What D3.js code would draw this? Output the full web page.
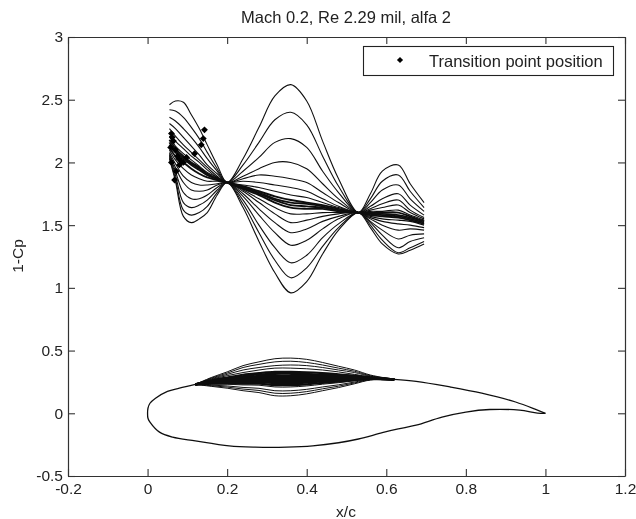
<!DOCTYPE html>
<html>
<head>
<meta charset="utf-8">
<script src="https://cdn.jsdelivr.net/npm/d3@7"></script>
<style>
  html, body { margin: 0; padding: 0; background: #fff; }
  svg { display: block; }
  text { font-family: "Liberation Sans", Arial, sans-serif; fill: #222; }
</style>
</head>
<body>
<svg id="chart" width="636" height="519"></svg>
<script>
const titleText = 'Mach 0.2, Re 2.29 mil, alfa 2';
const legendText = 'Transition point position';
const xTicks = [-0.2, 0, 0.2, 0.4, 0.6, 0.8, 1, 1.2];
const yTicks = [-0.5, 0, 0.5, 1, 1.5, 2, 2.5, 3];

// 1-Cp curves, all read at the same x/c stations
const cpX = [.055,.07,.09,.11,.13,.15,.175,.20,.24,.28,.32,.36,.40,.44,.48,.53,.56,.59,.63,.66,.695];
const cpCurves = [
  [2.46,2.49,2.48,2.38,2.27,2.14,1.98,1.84,2.03,2.28,2.53,2.62,2.49,2.17,1.87,1.60,1.75,1.93,1.98,1.83,1.68],
  [2.42,2.41,2.36,2.28,2.19,2.08,1.95,1.84,1.98,2.16,2.34,2.40,2.30,2.05,1.81,1.60,1.71,1.85,1.90,1.77,1.64],
  [2.36,2.33,2.27,2.20,2.12,2.03,1.93,1.84,1.93,2.04,2.16,2.19,2.12,1.93,1.76,1.60,1.68,1.78,1.82,1.71,1.61],
  [2.31,2.27,2.20,2.13,2.06,1.98,1.91,1.84,1.89,1.95,2.00,2.00,1.95,1.83,1.71,1.60,1.65,1.71,1.75,1.66,1.58],
  [2.27,2.21,2.14,2.08,2.02,1.96,1.89,1.84,1.87,1.90,1.89,1.87,1.84,1.76,1.68,1.60,1.63,1.67,1.70,1.62,1.56],
  [2.24,2.17,2.11,2.05,2.00,1.94,1.88,1.84,1.85,1.84,1.82,1.80,1.77,1.71,1.65,1.60,1.62,1.64,1.66,1.60,1.55],
  [2.21,2.13,2.07,2.02,1.97,1.92,1.88,1.84,1.82,1.80,1.77,1.74,1.72,1.68,1.64,1.60,1.61,1.61,1.62,1.58,1.54],
  [2.18,2.11,2.05,2.00,1.96,1.91,1.87,1.84,1.81,1.77,1.73,1.70,1.68,1.66,1.63,1.60,1.60,1.60,1.60,1.57,1.53],
  [2.16,2.09,2.04,1.99,1.95,1.90,1.87,1.84,1.80,1.76,1.71,1.68,1.67,1.65,1.62,1.60,1.59,1.59,1.58,1.56,1.53],
  [2.14,2.08,2.03,1.98,1.94,1.90,1.87,1.84,1.80,1.75,1.70,1.66,1.65,1.64,1.62,1.60,1.59,1.58,1.57,1.55,1.52],
  [2.12,2.05,2.00,1.95,1.91,1.88,1.86,1.84,1.79,1.74,1.68,1.64,1.63,1.63,1.61,1.60,1.58,1.57,1.56,1.54,1.51],
  [2.10,2.02,1.95,1.90,1.87,1.85,1.85,1.84,1.78,1.71,1.64,1.59,1.59,1.60,1.60,1.60,1.57,1.55,1.54,1.53,1.50],
  [2.08,1.99,1.89,1.84,1.82,1.82,1.83,1.84,1.77,1.68,1.59,1.52,1.54,1.57,1.59,1.60,1.56,1.53,1.51,1.50,1.48],
  [2.07,1.96,1.84,1.78,1.77,1.78,1.82,1.84,1.75,1.63,1.52,1.44,1.47,1.53,1.57,1.60,1.55,1.50,1.46,1.47,1.46],
  [2.06,1.93,1.76,1.71,1.71,1.74,1.80,1.84,1.73,1.58,1.44,1.34,1.38,1.47,1.55,1.60,1.53,1.46,1.39,1.42,1.43],
  [2.05,1.90,1.68,1.64,1.66,1.70,1.78,1.84,1.70,1.50,1.32,1.20,1.26,1.40,1.51,1.60,1.52,1.42,1.32,1.37,1.40],
  [2.04,1.87,1.62,1.58,1.60,1.65,1.76,1.84,1.67,1.44,1.22,1.08,1.16,1.33,1.48,1.60,1.50,1.38,1.28,1.32,1.37],
  [2.03,1.85,1.57,1.52,1.55,1.60,1.74,1.84,1.64,1.37,1.12,0.96,1.05,1.27,1.46,1.60,1.48,1.35,1.27,1.30,1.35]
];

// transition points
const transX = [.143,.14,.135,.118,.098,.085,.06,.062,.065,.07,.075,.08,.068,.06,.058,.072,.09,.078];
const transY = [2.26,2.19,2.14,2.07,2.04,2.01,2.23,2.2,2.17,2.1,2.05,1.98,1.86,2.0,2.12,1.93,2.0,2.03];

// airfoil skin, upper side, one curve per step
const skinX = [.12,.16,.20,.24,.28,.32,.36,.40,.44,.48,.52,.56,.62];
const skinCurves = [
  [.23,.285,.33,.38,.41,.435,.44,.43,.405,.375,.345,.305,.27],
  [.23,.28,.32,.365,.39,.41,.415,.405,.385,.36,.335,.30,.27],
  [.23,.275,.31,.345,.365,.38,.385,.38,.365,.345,.325,.295,.27],
  [.23,.27,.30,.325,.345,.36,.36,.355,.345,.33,.31,.29,.27],
  [.23,.263,.285,.307,.32,.33,.33,.327,.32,.31,.30,.287,.27],
  [.23,.26,.28,.297,.31,.315,.315,.313,.31,.304,.295,.284,.27],
  [.23,.257,.274,.287,.298,.30,.30,.30,.298,.296,.289,.282,.27],
  [.23,.255,.27,.28,.29,.29,.29,.29,.29,.29,.285,.28,.27],
  [.23,.252,.265,.273,.282,.28,.28,.281,.283,.284,.282,.279,.27],
  [.23,.25,.26,.267,.273,.27,.27,.272,.275,.279,.278,.278,.27],
  [.23,.247,.256,.26,.265,.26,.26,.263,.268,.273,.275,.277,.27],
  [.23,.244,.251,.253,.257,.25,.25,.254,.261,.267,.272,.276,.27],
  [.23,.242,.246,.247,.248,.24,.24,.245,.253,.262,.268,.275,.27],
  [.23,.237,.239,.236,.236,.225,.225,.231,.243,.253,.264,.274,.27],
  [.23,.233,.232,.226,.224,.21,.21,.218,.232,.244,.259,.272,.27],
  [.23,.225,.218,.206,.199,.18,.18,.191,.21,.227,.249,.269,.27],
  [.23,.22,.209,.193,.182,.16,.16,.173,.195,.216,.242,.267,.27],
  [.23,.215,.20,.18,.165,.14,.14,.155,.18,.205,.235,.265,.27]
];

// fixed part of the airfoil outline
const noseX = [.12,.08,.05,.02,.006,.001,0,.001,.006,.03,.063,.12,.205,.27,.35,.415,.48,.53,.59,.63,.675,.74,.80,.86,.935,.98,1];
const noseY = [.23,.2,.175,.12,.08,.04,0,-.04,-.07,-.15,-.19,-.22,-.26,-.27,-.27,-.26,-.235,-.205,-.155,-.125,-.095,-.03,.01,.03,.025,.002,0];
const tailX = [.62,.675,.76,.84,.925,.98,1];
const tailY = [.27,.255,.21,.16,.09,.025,0];

const plotLeft = 68, plotRight = 625, plotTop = 37, plotBottom = 476;

const svg = d3.select('#chart');

// the reference is a soft scan
svg.append('filter').attr('id', 'soft')
  .append('feGaussianBlur').attr('stdDeviation', 0.45);
const root = svg.append('g').attr('filter', 'url(#soft)');
root.append('rect').attr('width', 636).attr('height', 519).attr('fill', '#fff');

const x = d3.scaleLinear().domain([-0.2, 1.2]).range([plotLeft, plotRight]);
const y = d3.scaleLinear().domain([-0.5, 3]).range([plotBottom, plotTop]);

const pair = (xs, ys) => xs.map((d, i) => [d, ys[i]]);
const line = d3.line().x(d => x(d[0])).y(d => y(d[1])).curve(d3.curveCatmullRom.alpha(0.5));

function drawLine(pts, width) {
  root.append('path')
    .attr('d', line(pts))
    .attr('fill', 'none')
    .attr('stroke', '#111')
    .attr('stroke-width', width)
    .attr('stroke-linejoin', 'round');
}

// the middle curves pile up into the thick dark band
cpCurves.forEach((c, i) => drawLine(pair(cpX, c), i >= 7 && i <= 10 ? 1.9 : 1.1));
skinCurves.forEach((c, i) => drawLine(pair(skinX, c), i >= 4 && i <= 13 ? 2.2 : 1));
drawLine(pair(noseX, noseY), 1.3);
drawLine(pair(tailX, tailY), 1.3);

const diamond = d3.symbol().type(d3.symbolDiamond2).size(30);
root.append('g').selectAll('path')
  .data(pair(transX, transY))
  .join('path')
  .attr('d', diamond)
  .attr('transform', d => `translate(${x(d[0])},${y(d[1])})`)
  .attr('fill', '#000');

// Frame and ticks
const tickText = d => String(d);

function styleAxis(g) {
  g.selectAll('path').attr('stroke', '#333').attr('stroke-width', 1.2);
  g.selectAll('line').attr('stroke', '#333').attr('stroke-width', 1.1);
  g.selectAll('text').attr('font-size', 15.5).style('fill', '#222');
}

root.append('g')
  .attr('transform', `translate(0,${plotBottom})`)
  .call(d3.axisBottom(x).tickValues(xTicks).tickFormat(tickText).tickSizeInner(-7).tickSizeOuter(0).tickPadding(7))
  .call(styleAxis);
root.append('g')
  .attr('transform', `translate(0,${plotTop})`)
  .call(d3.axisTop(x).tickValues(xTicks).tickFormat('').tickSizeInner(-7).tickSizeOuter(0))
  .call(styleAxis);
root.append('g')
  .attr('transform', `translate(${plotLeft},0)`)
  .call(d3.axisLeft(y).tickValues(yTicks).tickFormat(tickText).tickSizeInner(-7).tickSizeOuter(0).tickPadding(5))
  .call(styleAxis);
root.append('g')
  .attr('transform', `translate(${plotRight},0)`)
  .call(d3.axisRight(y).tickValues(yTicks).tickFormat('').tickSizeInner(-7).tickSizeOuter(0))
  .call(styleAxis);

root.append('text').attr('x', 346).attr('y', 23)
  .attr('text-anchor', 'middle').attr('font-size', 16.5).text(titleText);
root.append('text').attr('x', 346).attr('y', 517)
  .attr('text-anchor', 'middle').attr('font-size', 15.5).text('x/c');
root.append('text').attr('transform', 'translate(23,256) rotate(-90)')
  .attr('text-anchor', 'middle').attr('font-size', 15.5).text('1-Cp');

// Legend
root.append('rect')
  .attr('x', 363.5).attr('y', 46.5).attr('width', 250).attr('height', 29)
  .attr('fill', '#fff').attr('stroke', '#222').attr('stroke-width', 1.1);
root.append('path')
  .attr('d', d3.symbol().type(d3.symbolDiamond2).size(24))
  .attr('transform', 'translate(400,60)')
  .attr('fill', '#000');
root.append('text').attr('x', 429).attr('y', 67)
  .attr('font-size', 16.5).text(legendText);
</script>
</body>
</html>
